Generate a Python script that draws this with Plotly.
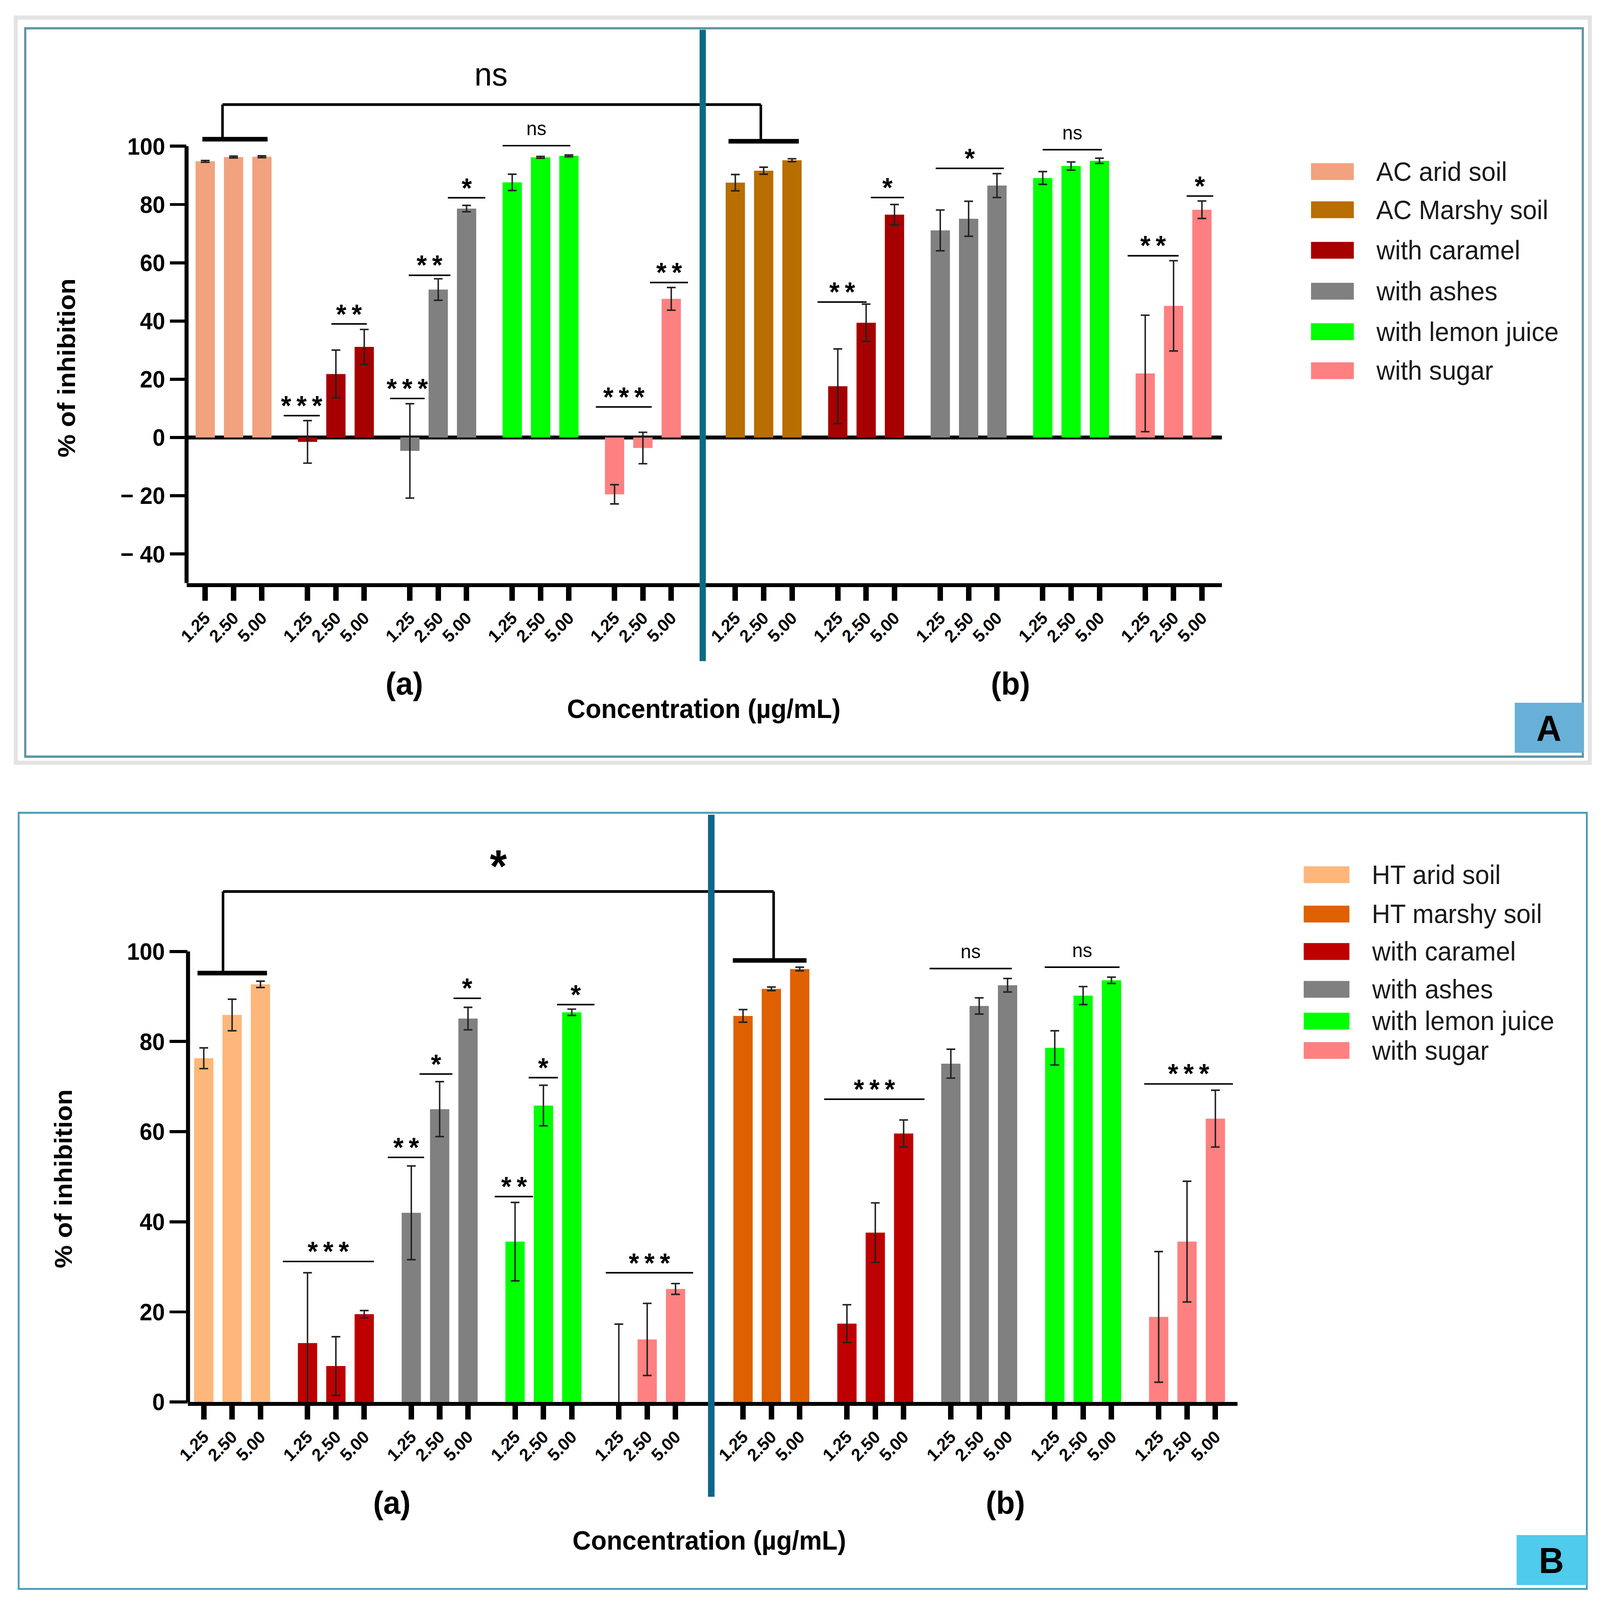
import plotly.graph_objects as go

W, H = 4374, 4187
FONT = "Arial, Liberation Sans, sans-serif"

CONC = ["1.25", "2.50", "5.00"]

NAMES_A = ["AC arid soil", "AC Marshy soil", "with caramel", "with ashes", "with lemon juice", "with sugar"]
NAMES_B = ["HT arid soil", "HT marshy soil", "with caramel", "with ashes", "with lemon juice", "with sugar"]
COLORS_A = ["#F2A27E", "#B86E00", "#A60000", "#808080", "#00FF00", "#FF8080"]
COLORS_B = ["#FFB67A", "#DE6000", "#BE0000", "#808080", "#00FF00", "#FF8080"]

# series shown in each group of three bars: (a) arid soil side, (b) marshy soil side
GROUPS_a = [0, 2, 3, 4, 5]
GROUPS_b = [1, 2, 3, 4, 5]

# panel A (AC): % of inhibition, mean and sd, one row per group, one value per concentration
MEAN_A_a = [[94.8, 96.3, 96.4], [-1.5, 21.8, 31.1], [-4.6, 50.8, 78.6], [87.6, 96.2, 96.7], [-19.5, -3.6, 47.6]]
SD_A_a = [[0.3, 0.3, 0.3], [7.3, 8.2, 6.0], [16.2, 3.7, 1.1], [2.8, 0.3, 0.3], [3.3, 5.4, 3.9]]
MEAN_A_b = [[87.5, 91.6, 95.2], [17.6, 39.4, 76.5], [71.1, 75.1, 86.5], [89.1, 93.2, 95.0], [22.0, 45.2, 78.2]]
SD_A_b = [[2.8, 1.2, 0.5], [12.8, 6.4, 3.5], [7.0, 6.0, 4.1], [2.2, 1.4, 0.9], [20.0, 15.5, 3.0]]

# panel B (HT)
MEAN_B_a = [[76.3, 85.9, 92.7], [13.1, 8.0, 19.5], [42.0, 65.0, 85.1], [35.6, 65.8, 86.5], [0.0, 13.9, 25.1]]
SD_B_a = [[2.3, 3.5, 0.7], [15.6, 6.5, 0.8], [10.4, 6.1, 2.5], [8.7, 4.5, 0.7], [17.3, 8.0, 1.2]]
MEAN_B_b = [[85.7, 91.7, 96.1], [17.4, 37.6, 59.6], [75.1, 87.9, 92.5], [78.6, 90.2, 93.6], [18.9, 35.6, 62.9]]
SD_B_b = [[1.4, 0.4, 0.4], [4.2, 6.6, 3.0], [3.2, 1.8, 1.5], [3.8, 2.0, 0.7], [14.5, 13.4, 6.3]]

# significance marks: (from, to, height, label) in axis units
SIG_A = [(2.77, 4.04, 7.5, "***"), (4.45, 5.70, 39.0, "**"), (6.52, 7.74, 13.4, "***"),
         (7.18, 8.65, 55.7, "**"), (8.56, 9.88, 82.3, "*"), (10.49, 12.88, 100.2, "ns"),
         (13.78, 15.75, 10.5, "***"), (15.69, 17.03, 53.2, "**"), (21.6, 23.33, 46.5, "**"),
         (23.48, 24.65, 82.4, "*"), (25.77, 28.17, 92.4, "*"), (29.54, 31.63, 98.8, "ns"),
         (32.54, 34.34, 62.4, "**"), (34.62, 35.56, 82.9, "*")]
SIG_B = [(2.79, 6.0, 31.2, "***"), (6.49, 7.77, 54.3, "**"), (7.61, 8.77, 72.8, "*"),
         (8.81, 9.78, 89.6, "*"), (10.26, 11.61, 45.6, "**"), (11.46, 12.49, 72.0, "*"),
         (12.46, 13.78, 88.2, "*"), (14.18, 17.26, 28.7, "***"), (21.88, 25.42, 67.2, "***"),
         (25.6, 28.5, 96.2, "ns"), (29.66, 32.3, 96.5, "ns"), (33.17, 36.3, 70.6, "***")]


def px(x):
    return x / W


def py(y):
    return 1 - y / H


fig = go.Figure()


def add_bars(means, sds, groups, colors, start, step, xa, ya):
    xs = []
    for gi, (m, s) in enumerate(zip(means, sds)):
        x = [start + gi * step + j for j in range(len(CONC))]
        xs += x
        fig.add_trace(go.Bar(
            x=x, y=m, width=0.68, xaxis=xa, yaxis=ya,
            marker=dict(color=colors[groups[gi]], line=dict(width=0)),
            error_y=dict(type="data", array=s, color="#222222", thickness=4, width=12),
            showlegend=False, hoverinfo="skip",
        ))
    return xs


ticks_A = add_bars(MEAN_A_a, SD_A_a, GROUPS_a, COLORS_A, 0, 3.61, "x", "y")
ticks_A += add_bars(MEAN_A_b, SD_A_b, GROUPS_b, COLORS_A, 18.7, 3.615, "x", "y")
ticks_B = add_bars(MEAN_B_a, SD_B_a, GROUPS_a, COLORS_B, 0, 3.66, "x2", "y2")
ticks_B += add_bars(MEAN_B_b, SD_B_b, GROUPS_b, COLORS_B, 19.02, 3.665, "x2", "y2")

shapes = []
annotations = []


def line(x0, y0, x1, y1, xr, yr, width, color="black"):
    shapes.append(dict(type="line", x0=x0, y0=y0, x1=x1, y1=y1, xref=xr, yref=yr,
                       line=dict(color=color, width=width)))


def text(x, y, t, size, xr="paper", yr="paper", bold=False, angle=0, color="black",
         xanchor="center", yanchor="middle", yshift=0):
    annotations.append(dict(x=x, y=y, text=t, xref=xr, yref=yr, showarrow=False,
                            textangle=angle, xanchor=xanchor, yanchor=yanchor, yshift=yshift,
                            font=dict(family=FONT, size=size, color=color,
                                      weight="bold" if bold else "normal")))


# frames around the two panels
shapes.append(dict(type="rect", xref="paper", yref="paper", x0=px(43), x1=px(4346), y0=py(1996), y1=py(46),
                   line=dict(color="#E3E3E3", width=11), layer="below"))
shapes.append(dict(type="rect", xref="paper", yref="paper", x0=px(69), x1=px(4327), y0=py(1980), y1=py(74),
                   line=dict(color="#5E95A3", width=6), layer="below"))
shapes.append(dict(type="rect", xref="paper", yref="paper", x0=px(51), x1=px(4338), y0=py(4158), y1=py(2127),
                   line=dict(color="#4A9BB8", width=5), layer="below"))

# y axis lines, stopping at 100
line(0, -50, 0, 100, "x domain", "y", 11)
line(0, 0, 0, 100, "x2 domain", "y2", 11)

for sig, xr, yr in [(SIG_A, "x", "y"), (SIG_B, "x2", "y2")]:
    for x0, x1, y, lab in sig:
        line(x0, y, x1, y, xr, yr, 4)
        if lab == "ns":
            text((x0 + x1) / 2, y, lab, 52, xr, yr, yanchor="bottom", yshift=14)
        else:
            text((x0 + x1) / 2, y, "\u2009".join(lab), 72, xr, yr, bold=True, yanchor="bottom", yshift=-16)

# (a) vs (b) brackets
line(-0.1, 102.4, 2.2, 102.4, "x", "y", 12)
line(18.46, 101.7, 20.94, 101.7, "x", "y", 12)
line(0.61, 102.4, 0.61, 114.3, "x", "y", 7)
line(0.61, 114.3, 19.6, 114.3, "x", "y", 7)
line(19.6, 114.3, 19.6, 101.7, "x", "y", 7)
text(10.08, 124.7, "ns", 86, "x", "y")

line(-0.22, 95.2, 2.23, 95.2, "x2", "y2", 12)
line(18.66, 98.0, 21.26, 98.0, "x2", "y2", 12)
line(0.68, 95.2, 0.68, 113.3, "x2", "y2", 7)
line(0.68, 113.3, 20.1, 113.3, "x2", "y2", 7)
line(20.1, 113.3, 20.1, 98.0, "x2", "y2", 7)
text(10.39, 119.0, "*", 120, "x2", "y2", bold=True)

# dividers between (a) and (b)
line(17.55, py(1730), 17.55, py(78), "x", "paper", 17, "#0B6A86")
line(17.9, py(3917), 17.9, py(2132), "x2", "paper", 18, "#0D6688")

text(px(181), py(963), "% of inhibition", 68, bold=True, angle=-90)
text(px(172), py(3085), "% of inhibition", 68, bold=True, angle=-90)
text(px(1924), py(1855), "Concentration (\u00b5g/mL)", 70, bold=True)
text(px(1939), py(4031), "Concentration (\u00b5g/mL)", 70, bold=True)
text(px(1105), py(1789), "(a)", 84, bold=True)
text(px(2762), py(1789), "(b)", 84, bold=True)
text(px(1071), py(3932), "(a)", 84, bold=True)
text(px(2748), py(3932), "(b)", 84, bold=True)

# panel tags
shapes.append(dict(type="rect", xref="paper", yref="paper", x0=px(4141), x1=px(4329), y0=py(1970), y1=py(1839),
                   fillcolor="#68B0D8", line=dict(width=0)))
text(px(4234), py(1905), "A", 95, bold=True)
shapes.append(dict(type="rect", xref="paper", yref="paper", x0=px(4146), x1=px(4338), y0=py(4148), y1=py(4017),
                   fillcolor="#4FCBEB", line=dict(width=0)))
text(px(4241), py(4083), "B", 95, bold=True)

# legends (drawn by hand, plotly swatches are too small at this size)
LEG_A_ROWS = [449, 549, 655, 762, 868, 970]
LEG_B_ROWS = [2289, 2392, 2490, 2589, 2672, 2749]
for names, colors, rows, sx0, sx1, tx in [(NAMES_A, COLORS_A, LEG_A_ROWS, 3584, 3701, 3760),
                                          (NAMES_B, COLORS_B, LEG_B_ROWS, 3564, 3689, 3748)]:
    for name, col, r in zip(names, colors, rows):
        shapes.append(dict(type="rect", xref="paper", yref="paper", x0=px(sx0), x1=px(sx1),
                           y0=py(r + 22), y1=py(r - 22), fillcolor=col, line=dict(width=0)))
        text(px(tx), py(r), name, 70, xanchor="left", color="#1A1A1A")

tickfont_x = dict(family=FONT, size=46, color="black", weight="bold")
tickfont_y = dict(family=FONT, size=62, color="black", weight="bold")

fig.update_layout(
    width=W, height=H,
    margin=dict(l=0, r=0, t=0, b=0, autoexpand=False),
    paper_bgcolor="white", plot_bgcolor="white",
    showlegend=False, barmode="overlay",
    shapes=shapes, annotations=annotations,
    xaxis=dict(domain=[px(510), px(3340)], range=[-0.658, 35.86], anchor="y", automargin=False,
               tickmode="array", tickvals=ticks_A, ticktext=CONC * 10, tickangle=-45,
               tickfont=tickfont_x, ticks="outside", ticklen=36, tickwidth=15, tickcolor="black",
               showline=True, linewidth=10, linecolor="black", showgrid=False, zeroline=False),
    yaxis=dict(domain=[py(1526), py(154)], range=[-50, 130], anchor="x", automargin=False,
               tickmode="array", tickvals=[-40, -20, 0, 20, 40, 60, 80, 100],
               ticktext=["\u2212 40", "\u2212 20", "0", "20", "40", "60", "80", "100"],
               tickfont=tickfont_y, ticks="outside", ticklen=45, tickwidth=8, tickcolor="black",
               showline=False, showgrid=False, zeroline=True, zerolinewidth=10, zerolinecolor="black"),
    xaxis2=dict(domain=[px(514), px(3383)], range=[-0.555, 36.46], anchor="y2", automargin=False,
                tickmode="array", tickvals=ticks_B, ticktext=CONC * 10, tickangle=-45,
                tickfont=tickfont_x, ticks="outside", ticklen=36, tickwidth=15, tickcolor="black",
                showline=True, linewidth=10, linecolor="black", showgrid=False, zeroline=False),
    yaxis2=dict(domain=[py(3669), py(2195)], range=[0, 125], anchor="x2", automargin=False,
                tickmode="array", tickvals=[0, 20, 40, 60, 80, 100],
                tickfont=tickfont_y, ticks="outside", ticklen=50, tickwidth=8, tickcolor="black",
                showline=False, showgrid=False, zeroline=False),
)

# the browser window can be smaller than the figure: scale the figure to fit it
fit = ("var gd=document.getElementById('{plot_id}');"
       "document.body.style.margin='0';document.body.style.overflow='hidden';"
       "gd.style.transformOrigin='0 0';"
       "gd.style.transform='scale('+window.innerWidth/%d+','+window.innerHeight/%d+')';" % (W, H))
fig.write_html("out.html", post_script=fit, config={"displayModeBar": False})
